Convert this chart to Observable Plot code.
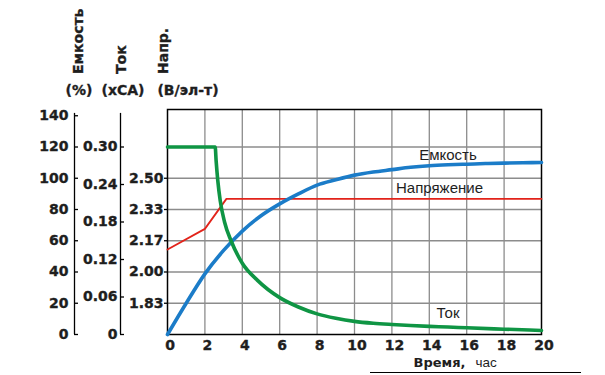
<!DOCTYPE html>
<html><head><meta charset="utf-8">
<script src="https://cdn.jsdelivr.net/npm/d3@7"></script>
<script src="https://cdn.jsdelivr.net/npm/@observablehq/plot@0.6"></script>
<style>
body{margin:0;background:#fff;width:605px;height:375px;overflow:hidden;position:relative;}
#head{position:relative;height:100px;font-family:"DejaVu Sans";font-weight:bold;font-size:14px;color:#1e1e1e;-webkit-text-stroke:0.35px #1e1e1e;}
.rot{position:absolute;white-space:nowrap;line-height:14px;transform:rotate(-90deg);transform-origin:0 0;}
.unit{position:absolute;white-space:nowrap;line-height:14px;transform:translateX(-50%);}
#chart svg{display:block;}
#rule{position:absolute;left:370px;top:372px;width:211px;height:1px;background:#000;}
</style></head>
<body>
<div id="head">
  <span class="rot" style="left:71px;top:74px">Емкость</span>
  <span class="rot" style="left:113.5px;top:74px">Ток</span>
  <span class="rot" style="left:155.5px;top:74px">Напр.</span>
  <span class="unit" style="left:79px;top:83px">(%)</span>
  <span class="unit" style="left:123px;top:83px">(xCA)</span>
  <span class="unit" style="left:188px;top:83px">(В/эл-т)</span>
</div>
<div id="chart"></div>
<div id="rule"></div>
<script>
// ---- data ----
const capHours = [0,1,2,3,4,5,6,7,8,9,10,11,12,13,14,15,16,17,18,19,20];
const capacity = [0,20,38.8,53.8,66.2,76,83.6,90,95.6,99,102,104,105.5,107,108,108.6,109,109.4,109.7,109.9,110.1];

const curHours = [0,2.55,2.6,2.69,2.82,3.05,3.4,4.0,4.8,6,7,8,9,10,11,12,14,15,16,18,20];
const current  = [0.30,0.30,0.278,0.246,0.214,0.18,0.15,0.114,0.087,0.059,0.044,0.033,0.026,0.021,0.018,0.016,0.013,0.012,0.0107,0.0085,0.0065];

const voltHours = [0,2,3.15,20];
const voltage   = [2.12,2.23,2.39,2.39];

const xTicks = [0,2,4,6,8,10,12,14,16,18,20];
const pctTicks = [0,20,40,60,80,100,120,140];
const currentTicks = [0,0.06,0.12,0.18,0.24,0.30];
const currentTickLabels = ["0","0.06","0.12","0.18","0.24","0.30"];
const voltTicks = [11/6,2,13/6,7/3,5/2];
const voltTickLabels = ["1.83","2.00","2.17","2.33","2.50"];

// ---- mapping of secondary units onto the % scale ----
const curToPct = i => i * 400;            // 0.30 xCA -> 120 %
const voltToPct = v => (v - 5/3) * 120;   // 2.50 V -> 100 %

const capData = capHours.map((h,i)=>({h, v: capacity[i]}));
const curData = curHours.map((h,i)=>({h, v: curToPct(current[i])}));
const voltData = voltHours.map((h,i)=>({h, v: voltToPct(voltage[i])}));

const curLabel = new Map(currentTicks.map((t,i)=>[curToPct(t), currentTickLabels[i]]));
const voltLabel = new Map(voltTicks.map((t,i)=>[voltToPct(t), voltTickLabels[i]]));

const ink = "#1e1e1e";
const grid = {stroke:"#8c8c8c", strokeOpacity:1, strokeWidth:1.3};
const lbl = {fontFamily:"Liberation Sans", fontWeight:"normal", fontSize:15, fill:ink};
const heavy = {textStroke:ink, textStrokeWidth:0.35};

const chart = Plot.plot({
  width: 605, height: 275,
  marginTop: 9, marginBottom: 41, marginLeft: 167, marginRight: 64,
  x: {domain:[0,20]},
  y: {domain:[0,144]},
  style: {fontFamily:"DejaVu Sans", fontSize:"14px", fontWeight:"bold", color:ink, background:"white", overflow:"visible"},
  marks: [
    Plot.gridX(xTicks.slice(1,-1), grid),
    Plot.gridY(pctTicks.slice(1,-1), grid),
    Plot.frame({stroke:"#000", strokeWidth:1.5}),
    Plot.axisX(xTicks, {tickSize:0, tickPadding:6, dx:2.5, label:null, tickFormat:d=>String(d), ...heavy}),
    // % axis
    Plot.ruleX([0], {y1:0, y2:141.5, dx:-93, stroke:"#000", strokeWidth:1.3}),
    Plot.axisY(pctTicks, {anchor:"left", dx:-93, tickSize:-4, tickPadding:10, label:null, tickFormat:d=>String(d), stroke:"#000", strokeWidth:1.3, ...heavy}),
    // current axis
    Plot.ruleX([0], {y1:0, y2:141.5, dx:-47, stroke:"#000", strokeWidth:1.3}),
    Plot.axisY(currentTicks.map(curToPct), {anchor:"left", dx:-47, tickSize:-4, tickPadding:7, label:null, tickFormat:d=>curLabel.get(d), stroke:"#000", strokeWidth:1.3, ...heavy}),
    // voltage axis
    Plot.axisY(voltTicks.map(voltToPct), {anchor:"left", tickSize:3, tickPadding:1, label:null, tickFormat:d=>voltLabel.get(d), stroke:"#000", strokeWidth:1.3, ...heavy}),
    // series
    Plot.line(voltData, {x:"h", y:"v", stroke:"#e2231a", strokeWidth:1.8}),
    Plot.line(capData, {x:"h", y:"v", stroke:"#1b7cc8", strokeWidth:3.6, curve:"monotone-x"}),
    Plot.line(curData, {x:"h", y:"v", stroke:"#0f9544", strokeWidth:3.6, curve:"monotone-x"}),
    // series labels
    Plot.text([capData[15]], {x:"h", y:"v", text:()=>"Емкость", dy:-10, ...lbl}),
    Plot.text([{h:15, v:voltData[voltData.length-1].v}], {x:"h", y:"v", text:()=>"Напряжение", dx:-8.5, dy:-10.5, ...lbl}),
    Plot.text([curData[17]], {x:"h", y:"v", text:()=>"Ток", dy:-13.6, ...lbl}),
    // x axis title
    Plot.text(["Время,"], {frameAnchor:"bottom-right", textAnchor:"end", lineAnchor:"bottom", dx:-76, dy:32.7, fontSize:13, fill:ink, ...heavy}),
    Plot.text(["час"], {frameAnchor:"bottom-right", textAnchor:"start", lineAnchor:"bottom", dx:-66, dy:32.7, fontFamily:"Liberation Sans", fontWeight:"normal", fontSize:13.5, fill:ink})
  ]
});
document.getElementById("chart").append(chart);
</script>
</body></html>
